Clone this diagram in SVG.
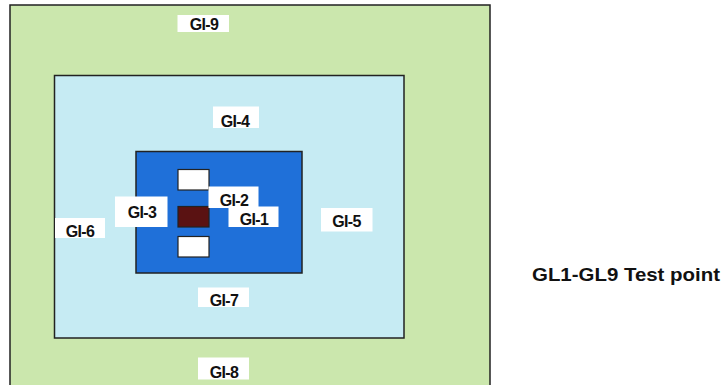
<svg xmlns="http://www.w3.org/2000/svg" width="723" height="385" viewBox="0 0 723 385">
<style>
.lb{fill:#ffffff;stroke:none}
.t{font-family:"Liberation Sans",Arial,sans-serif;font-weight:bold;font-size:16px;fill:#111;text-anchor:middle;letter-spacing:-0.6px}
.sq{stroke:#222;stroke-width:1.2}
</style>
<rect x="0" y="0" width="723" height="385" fill="#ffffff"/>
<g id="zone-outer">
<rect x="10" y="5" width="480" height="390" fill="#cbe7ad" stroke="#222" stroke-width="1.5"/>
</g>
<g id="zone-middle">
<rect x="54.5" y="75.5" width="349.5" height="262.5" fill="#c6ebf3" stroke="#222" stroke-width="1.5"/>
</g>
<g id="zone-inner">
<rect x="136" y="151.5" width="166" height="121.5" fill="#1f70d9" stroke="#222" stroke-width="1.5"/>
</g>
<g id="pad-top"><rect class="sq" x="178" y="169.5" width="31" height="20.5" fill="#ffffff"/></g>
<g id="pad-center"><rect class="sq" x="178" y="206.5" width="31" height="20.5" fill="#5a1212"/></g>
<g id="pad-bottom"><rect class="sq" x="178" y="236.5" width="31" height="20.5" fill="#ffffff"/></g>
<g id="connectors"></g>
<g id="GI-9"><rect class="lb" x="177.5" y="15" width="51.5" height="17"/><text class="t" x="204" y="29.5">GI-9</text></g>
<g id="GI-4"><rect class="lb" x="213" y="106.5" width="46" height="21.5"/><text class="t" x="235" y="126.5">GI-4</text></g>
<g id="GI-2"><rect class="lb" x="208.5" y="186.5" width="50" height="21.5"/><text class="t" x="234" y="205.5">GI-2</text></g>
<g id="GI-1"><rect class="lb" x="228.5" y="206.5" width="50" height="20.5"/><text class="t" x="254" y="225">GI-1</text></g>
<g id="GI-3"><rect class="lb" x="115" y="196.5" width="52.5" height="30.5"/><text class="t" x="142" y="217.5">GI-3</text></g>
<g id="GI-6"><rect class="lb" x="55" y="218" width="50" height="20"/><text class="t" x="80" y="236.5">GI-6</text></g>
<g id="GI-5"><rect class="lb" x="321" y="208" width="51.5" height="23.5"/><text class="t" x="346.5" y="226.5">GI-5</text></g>
<g id="GI-7"><rect class="lb" x="198" y="287.5" width="51" height="19.5"/><text class="t" x="224" y="306">GI-7</text></g>
<g id="GI-8"><rect class="lb" x="198" y="357.5" width="51" height="22"/><text class="t" x="224" y="378">GI-8</text></g>
<g id="caption"><text x="532" y="281" font-family="'Liberation Sans',Arial,sans-serif" font-weight="bold" font-size="18.5" fill="#111" textLength="188" lengthAdjust="spacingAndGlyphs">GL1-GL9 Test point</text></g>
</svg>
